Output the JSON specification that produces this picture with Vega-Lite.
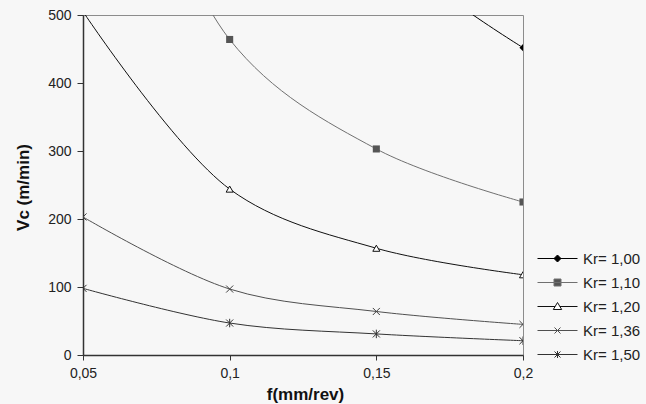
{
  "$schema": "https://vega.github.io/schema/vega-lite/v6.json",
  "autosize": "none",
  "width": 440,
  "height": 340,
  "padding": {"left": 83, "top": 15, "right": 123, "bottom": 49},
  "background": "#f7f7f7",
  "config": {
    "view": {"stroke": "#8c8c8c", "strokeWidth": 1},
    "font": "Liberation Sans",
    "axis": {
      "grid": false,
      "labelFlush": false,
      "domainColor": "#333333",
      "domainWidth": 1.5,
      "tickColor": "#333333",
      "tickWidth": 1,
      "labelFont": "Liberation Sans",
      "labelFontSize": 14,
      "labelColor": "#222222",
      "titleFont": "Liberation Sans",
      "titleColor": "#111111",
      "titleFontWeight": "bold"
    }
  },
  "data": {
    "values": [
      {"Kr": "Kr= 1,00", "f": 0.05, "v": 1950},
      {"Kr": "Kr= 1,00", "f": 0.1, "v": 940},
      {"Kr": "Kr= 1,00", "f": 0.15, "v": 614},
      {"Kr": "Kr= 1,00", "f": 0.2, "v": 452},
      {"Kr": "Kr= 1,10", "f": 0.05, "v": 960},
      {"Kr": "Kr= 1,10", "f": 0.1, "v": 464},
      {"Kr": "Kr= 1,10", "f": 0.15, "v": 303},
      {"Kr": "Kr= 1,10", "f": 0.2, "v": 225},
      {"Kr": "Kr= 1,20", "f": 0.05, "v": 505},
      {"Kr": "Kr= 1,20", "f": 0.1, "v": 244},
      {"Kr": "Kr= 1,20", "f": 0.15, "v": 157},
      {"Kr": "Kr= 1,20", "f": 0.2, "v": 118},
      {"Kr": "Kr= 1,36", "f": 0.05, "v": 203},
      {"Kr": "Kr= 1,36", "f": 0.1, "v": 97},
      {"Kr": "Kr= 1,36", "f": 0.15, "v": 64},
      {"Kr": "Kr= 1,36", "f": 0.2, "v": 45},
      {"Kr": "Kr= 1,50", "f": 0.05, "v": 98},
      {"Kr": "Kr= 1,50", "f": 0.1, "v": 47},
      {"Kr": "Kr= 1,50", "f": 0.15, "v": 31},
      {"Kr": "Kr= 1,50", "f": 0.2, "v": 21}
    ]
  },
  "encoding": {
    "x": {
      "field": "f",
      "type": "quantitative",
      "scale": {"domain": [0.05, 0.2], "nice": false, "zero": false},
      "axis": {
        "title": "f(mm/rev)",
        "titleFontSize": 17,
        "titleX": 222,
        "titleY": 39,
        "titleBaseline": "middle",
        "values": [0.05, 0.1, 0.15, 0.2],
        "labelExpr": "replace(format(datum.value, '.2~f'), '.', ',')",
        "tickSize": 5,
        "labelPadding": 6
      }
    },
    "y": {
      "field": "v",
      "type": "quantitative",
      "scale": {"domain": [0, 500], "nice": false},
      "axis": {
        "title": "Vc (m/min)",
        "titleFontSize": 17,
        "titleX": -60,
        "titleY": 172,
        "titleAngle": -90,
        "titleBaseline": "middle",
        "values": [0, 100, 200, 300, 400, 500],
        "tickSize": 6,
        "labelPadding": 6
      }
    }
  },
  "layer": [
    {
      "mark": {"type": "line", "clip": true, "interpolate": "catmull-rom", "strokeWidth": 1},
      "encoding": {
        "color": {
          "field": "Kr",
          "type": "nominal",
          "scale": {
            "domain": ["Kr= 1,00", "Kr= 1,10", "Kr= 1,20", "Kr= 1,36", "Kr= 1,50"],
            "range": ["#000000", "#707070", "#111111", "#505050", "#333333"]
          },
          "legend": {
            "title": null,
            "orient": "none",
            "legendX": 464,
            "legendY": 233,
            "padding": 0,
            "symbolSize": 400,
            "symbolStrokeWidth": 1,
            "labelOffset": 15,
            "labelFont": "Liberation Sans",
            "labelFontSize": 15,
            "labelColor": "#222222",
            "rowPadding": 5,
            "encode": {
              "symbols": {
                "update": {
                  "shape": {"signal": "datum.value === 'Kr= 1,00' ? 'M-2,0H2M0,-0.35L0.35,0L0,0.35L-0.35,0Z' : datum.value === 'Kr= 1,10' ? 'M-2,0H2M-0.35,-0.35H0.35V0.35H-0.35Z' : datum.value === 'Kr= 1,20' ? 'M-2,0H-0.24M0.24,0H2M0,-0.4L0.42,0.3H-0.42Z' : datum.value === 'Kr= 1,36' ? 'M-2,0H2M-0.3,-0.3L0.3,0.3M-0.3,0.3L0.3,-0.3' : 'M-2,0H2M-0.3,-0.3L0.3,0.3M-0.3,0.3L0.3,-0.3M0,-0.35V0.35'"},
                  "fill": {"signal": "datum.value === 'Kr= 1,00' ? '#000000' : datum.value === 'Kr= 1,10' ? '#555555' : datum.value === 'Kr= 1,20' ? '#ffffff' : 'transparent'"},
                  "stroke": {"signal": "datum.value === 'Kr= 1,00' ? '#000000' : datum.value === 'Kr= 1,10' ? '#555555' : datum.value === 'Kr= 1,20' ? '#111111' : datum.value === 'Kr= 1,36' ? '#505050' : '#333333'"},
                  "strokeWidth": {"value": 1},
                  "opacity": {"value": 1}
                }
              }
            }
          }
        }
      }
    },
    {
      "transform": [{"filter": "datum.Kr === 'Kr= 1,00'"}],
      "mark": {"type": "point", "clip": true, "shape": "diamond", "size": 50, "filled": true, "color": "#000000", "opacity": 1}
    },
    {
      "transform": [{"filter": "datum.Kr === 'Kr= 1,10'"}],
      "mark": {"type": "point", "clip": true, "shape": "square", "size": 50, "filled": true, "color": "#555555", "opacity": 1}
    },
    {
      "transform": [{"filter": "datum.Kr === 'Kr= 1,20'"}],
      "mark": {"type": "point", "clip": true, "shape": "triangle-up", "size": 50, "fill": "#ffffff", "stroke": "#111111", "strokeWidth": 1, "opacity": 1}
    },
    {
      "transform": [{"filter": "datum.Kr === 'Kr= 1,36'"}],
      "mark": {"type": "point", "clip": true, "shape": "M-1,-1L1,1M-1,1L1,-1", "size": 50, "fill": "transparent", "stroke": "#404040", "strokeWidth": 1, "opacity": 1}
    },
    {
      "transform": [{"filter": "datum.Kr === 'Kr= 1,50'"}],
      "mark": {"type": "point", "clip": true, "shape": "M-1,-1L1,1M-1,1L1,-1M0,-1.2V1.2", "size": 50, "fill": "transparent", "stroke": "#333333", "strokeWidth": 1, "opacity": 1}
    }
  ]
}
